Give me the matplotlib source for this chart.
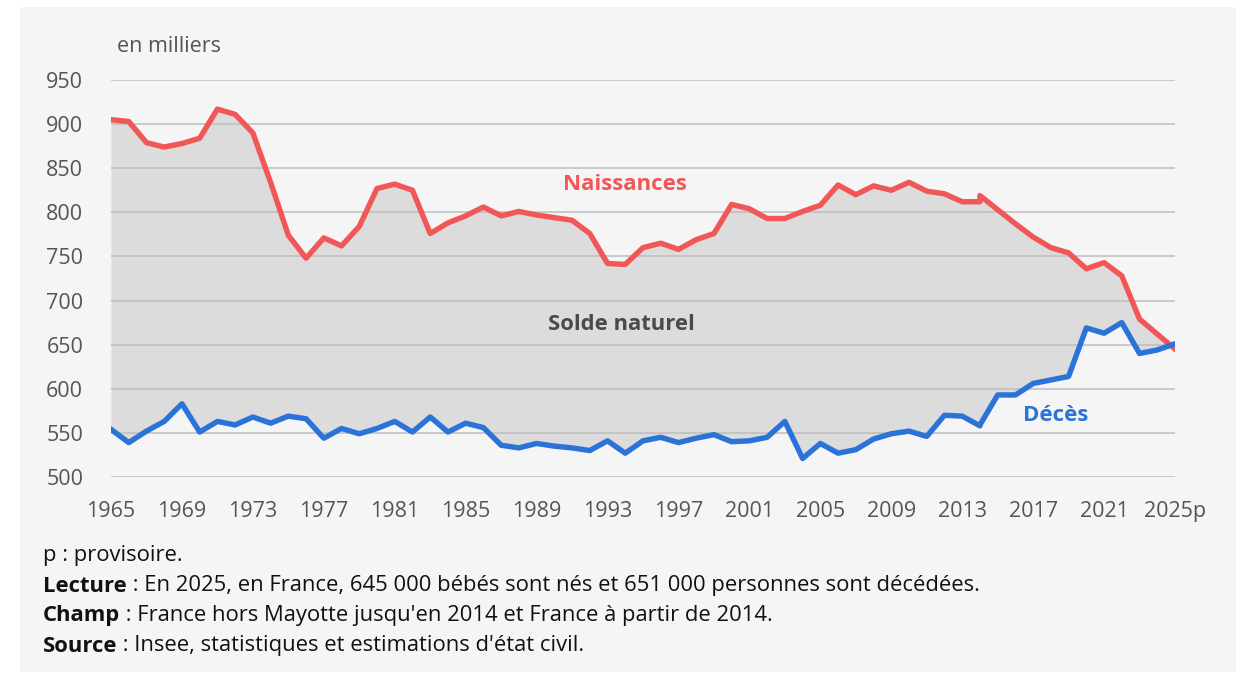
import matplotlib
matplotlib.use("Agg")
import matplotlib.pyplot as plt
from matplotlib.patches import Rectangle

# Naissances et décès en France, en milliers (2014 appears twice: hors Mayotte / avec Mayotte)
years = [1965, 1966, 1967, 1968, 1969, 1970, 1971, 1972, 1973, 1974,
         1975, 1976, 1977, 1978, 1979, 1980, 1981, 1982, 1983, 1984,
         1985, 1986, 1987, 1988, 1989, 1990, 1991, 1992, 1993, 1994,
         1995, 1996, 1997, 1998, 1999, 2000, 2001, 2002, 2003, 2004,
         2005, 2006, 2007, 2008, 2009, 2010, 2011, 2012, 2013, 2014,
         2014, 2015, 2016, 2017, 2018, 2019, 2020, 2021, 2022, 2023,
         2024, 2025]
births = [905, 903, 879, 874, 878, 884, 917, 911, 890, 834,
          774, 748, 771, 762, 784, 827, 832, 825, 776, 788,
          796, 806, 796, 801, 797, 794, 791, 776, 742, 741,
          760, 765, 758, 769, 776, 809, 804, 793, 793, 801,
          808, 831, 820, 830, 825, 834, 824, 821, 812, 812,
          819, 803, 787, 772, 760, 754, 736, 743, 728, 679,
          662, 645]
deaths = [554, 539, 552, 563, 583, 551, 563, 559, 568, 561,
          569, 566, 544, 555, 549, 555, 563, 551, 568, 551,
          561, 556, 536, 533, 538, 535, 533, 530, 541, 527,
          541, 545, 539, 544, 548, 540, 541, 545, 563, 521,
          538, 527, 531, 543, 549, 552, 546, 570, 569, 558,
          559, 593, 593, 606, 610, 614, 669, 663, 675, 640,
          644, 651]
xtick_years = list(range(1965, 2026, 4))
xtick_labels = [str(y) for y in xtick_years[:-1]] + ["2025p"]
yticks = list(range(500, 951, 50))

notes = [
    ("", "p : provisoire."),
    ("Lecture", " : En 2025, en France, 645 000 bébés sont nés et 651 000 personnes sont décédées."),
    ("Champ", " : France hors Mayotte jusqu'en 2014 et France à partir de 2014."),
    ("Source", " : Insee, statistiques et estimations d'état civil."),
]

plt.rcParams['font.family'] = ['Open Sans', 'DejaVu Sans']

RED = '#f25757'
BLUE = '#2b73d8'
BG = '#f5f5f5'
W, H = 1251, 673

fig = plt.figure(figsize=(W / 100, H / 100), dpi=100, facecolor='white')
fig.patches.append(Rectangle((20 / W, 1 - 672 / H), 1216 / W, 665 / H,
                             transform=fig.transFigure, facecolor=BG,
                             edgecolor='none', zorder=-10))

ax = fig.add_axes([111 / W, 1 - 477 / H, 1064 / W, 397 / H])
ax.set_facecolor(BG)
ax.patch.set_alpha(0)

ax.fill_between(years, deaths, births, color='#dcdcdc', lw=0, zorder=1)
ax.plot(years, births, color=RED, lw=3.9, solid_joinstyle='round', zorder=3)
ax.plot(years, deaths, color=BLUE, lw=3.9, solid_joinstyle='round', zorder=4)

ax.set_xlim(1965, 2025)
ax.set_ylim(500, 950)
ax.set_yticks(yticks)
ax.set_xticks(xtick_years)
ax.set_xticklabels(xtick_labels)
ax.grid(axis='y', color='#bdbdbd', lw=1.1, zorder=2)
ax.set_axisbelow(False)
for s in ax.spines.values():
    s.set_visible(False)
ax.tick_params(length=0, labelsize=15.5, labelcolor='#555555')
ax.tick_params(axis='y', pad=20)
ax.tick_params(axis='x', pad=17)

ax.text(1994.0, 831, "Naissances", color=RED, fontsize=16, fontweight='bold',
        ha='center', va='center')
ax.text(1993.8, 673, "Solde naturel", color='#4a4a4a', fontsize=15.8, fontweight='bold',
        ha='center', va='center')
ax.text(2018.25, 570, "Décès", color=BLUE, fontsize=16, fontweight='bold',
        ha='center', va='center')

fig.text(117 / W, 1 - 47 / H, "en milliers", color='#555555', fontsize=15.5,
         ha='left', va='center')

renderer = fig.canvas.get_renderer()
for i, (bold, rest) in enumerate(notes):
    y = 1 - (556 + 30 * i) / H
    x = 43 / W
    if bold:
        t = fig.text(x, y, bold, fontsize=15.8, fontweight='bold', color='#111111',
                     ha='left', va='center')
        bb = t.get_window_extent(renderer)
        x = bb.x1 / W
    fig.text(x, y, rest, fontsize=15.8, color='#111111', ha='left', va='center')

fig.savefig('out.png', dpi=100, facecolor='white')
